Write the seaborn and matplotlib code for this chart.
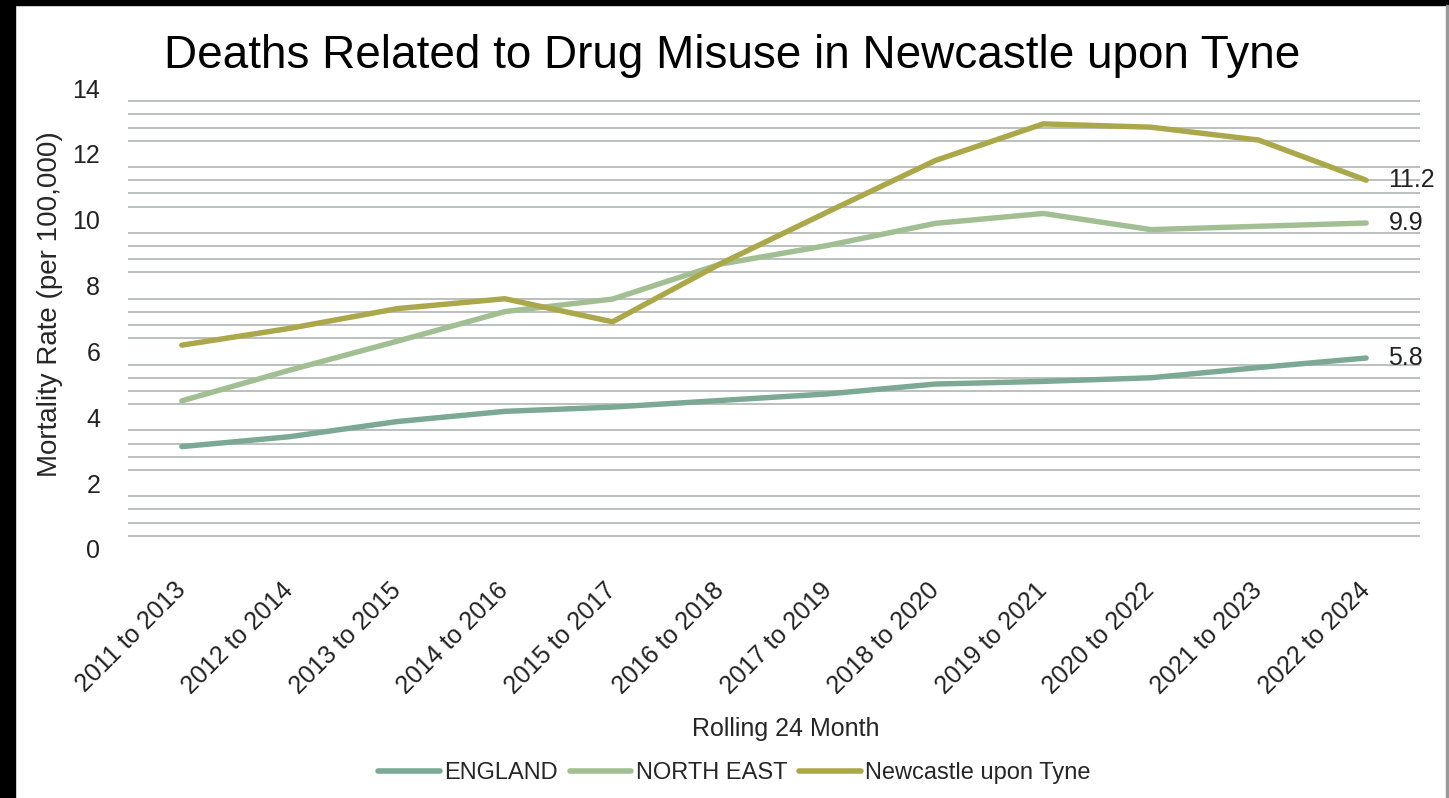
import numpy as np
import pandas as pd
import seaborn as sns
import matplotlib.pyplot as plt
from matplotlib import font_manager

# Values
periods = ["2011 to 2013", "2012 to 2014", "2013 to 2015", "2014 to 2016",
           "2015 to 2017", "2016 to 2018", "2017 to 2019", "2018 to 2020",
           "2019 to 2021", "2020 to 2022", "2021 to 2023", "2022 to 2024"]
england = [3.11, 3.41, 3.87, 4.18, 4.31, 4.51, 4.71, 5.01, 5.09, 5.20, 5.51, 5.8]
north_east = [4.5, 5.43, 6.31, 7.21, 7.59, 8.65, 9.22, 9.89, 10.19, 9.70, 9.80, 9.9]
newcastle = [6.19, 6.70, 7.30, 7.60, 6.90, 8.66, 10.24, 11.80, 12.91, 12.81, 12.42, 11.2]
series_names = ["ENGLAND", "NORTH EAST", "Newcastle upon Tyne"]
colors = ["#7ba994", "#a2bf93", "#aaa84a"]
end_labels = ["5.8", "9.9", "11.2"]

df = pd.DataFrame({
    "Period": periods * 3,
    "Rate": england + north_east + newcastle,
    "Area": np.repeat(series_names, len(periods)),
})

sns.set_theme(style="white")
available = {f.name for f in font_manager.fontManager.ttflist}
narrow = "Liberation Sans Narrow" if "Liberation Sans Narrow" in available else "Liberation Sans"
plt.rcParams['font.family'] = ['Liberation Sans', 'DejaVu Sans']

fig = plt.figure(figsize=(14.49, 7.98), dpi=100)
ax = fig.add_axes([128 / 1449, 1 - 549 / 798, 1292 / 1449, 461 / 798])

# gridlines every 0.4, Excel-style, skipping the major values
grid_vals = [v for v in np.arange(0.4, 14.0, 0.4) if abs(v / 2 - round(v / 2)) > 0.01]
for v in grid_vals:
    ax.axhline(v, color="#b5bab8", lw=1.3, zorder=0)

sns.lineplot(data=df, x="Period", y="Rate", hue="Area", palette=colors,
             linewidth=3.9, sort=False, ax=ax, legend=False,
             solid_capstyle="round", zorder=3)

for vals, lab in zip([england, north_east, newcastle], end_labels):
    ax.annotate(lab, (len(periods) - 1, vals[-1]), xytext=(16, 0),
                textcoords="offset points", va="center", ha="left",
                fontsize=18, color="#222222")

ax.set_xlim(-0.5, len(periods) - 0.5)
ax.set_ylim(0, 14)
ax.set_yticks(range(0, 15, 2))
ax.tick_params(axis="y", labelsize=18, pad=20, length=0, labelcolor="#222222")
ax.tick_params(axis="x", labelsize=18, pad=27, length=0, labelcolor="#222222")
plt.setp(ax.get_xticklabels(), rotation=45, ha="right", va="center",
         rotation_mode="anchor")
for s in ax.spines.values():
    s.set_visible(False)

ax.set_xlabel("Rolling 24 Month", fontsize=18, family=[narrow, 'DejaVu Sans'])
ax.set_ylabel("Mortality Rate (per 100,000)", fontsize=20)
ax.xaxis.set_label_coords(0.509, -0.365)
ax.yaxis.set_label_coords(-0.05, 0.531)

fig.text(0.505, 0.93, "Deaths Related to Drug Misuse in Newcastle upon Tyne",
         ha="center", va="center", fontsize=33, color="black")

handles = [plt.Line2D([], [], color=c, lw=4, solid_capstyle="round") for c in colors]
fig.legend(handles, series_names, loc="center", bbox_to_anchor=(0.507, 0.031),
           ncol=3, frameon=False, handlelength=2.6, handletextpad=0.2,
           columnspacing=0.5, prop={"family": narrow, "size": 17})

# black frame strips at left/top like the screenshot
fig.patches.append(plt.Rectangle((0, 0), 15 / 1449, 1, transform=fig.transFigure,
                                 color="black", zorder=10))
fig.patches.append(plt.Rectangle((0, 1 - 5 / 798), 1, 5 / 798, transform=fig.transFigure,
                                 color="black", zorder=10))
fig.patches.append(plt.Rectangle((1446 / 1449, 0), 1.5 / 1449, 1 - 5 / 798,
                                 transform=fig.transFigure, color="#999999", zorder=10))

fig.savefig("out.png", dpi=100)
